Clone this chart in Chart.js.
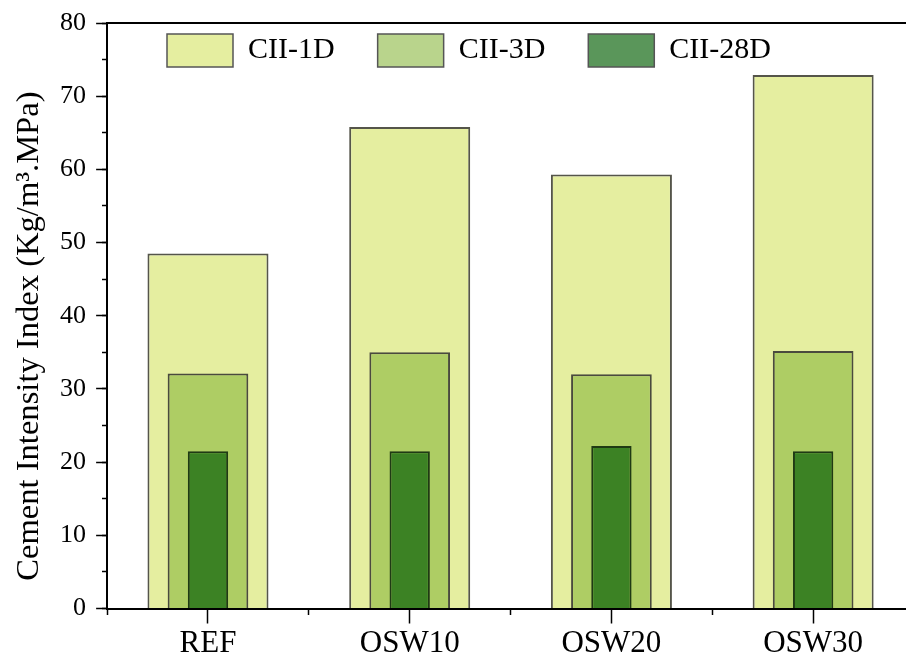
<!DOCTYPE html>
<html><head><meta charset="utf-8">
<script src="https://cdn.jsdelivr.net/npm/chart.js@4"></script>
<style>html,body{margin:0;padding:0;overflow:hidden;background:#fff}#wrap{width:930px;height:657px;position:relative}</style>
</head><body><div id="wrap"><canvas id="c"></canvas></div>
<script>
const categories = ['REF', 'OSW10', 'OSW20', 'OSW30'];
const cii1D = [48.5, 65.8, 59.3, 72.9];
const cii3D = [32.1, 35.0, 32.0, 35.2];
const cii28D = [21.5, 21.5, 22.2, 21.5];
const seriesNames = ['CII-1D', 'CII-3D', 'CII-28D'];
const yMin = 0, yMax = 80, yMajorStep = 10, yMinorStep = 5;
const yTitle = 'Cement Intensity Index (Kg/m³.MPa)';

const FONT = "'Liberation Serif', 'Times New Roman', serif";
const barFill = ['#e5eea0', '#aecd64', '#3c8224'];
const barEdge = ['#55554a', '#4a4a3e', '#1f3a14'];
const legendFill = ['#e5eea0', '#b9d48c', '#5a965a'];

// legend drawn inside the plot frame: takes no layout space, then moved to its spot
const legendInside = {
  id: 'legendInside',
  beforeLayout(chart) {
    const lg = chart.legend;
    if (lg && !lg._zeroFit) {
      const fit = lg.fit;
      lg.fit = function () { fit.call(this); this.height = 0; };
      lg._zeroFit = true;
    }
  },
  afterLayout(chart) {
    const lg = chart.legend; if (!lg) return;
    const p = lg.options.labels.padding;
    const dx = 167 - (lg.left + p);
    const dy = 34 - (lg.top + p);
    lg.left += dx; lg.right += dx; lg.top += dy;
    lg.height = 160; lg.bottom = lg.top + lg.height;
  }
};

new Chart(document.getElementById('c'), {
  type: 'bar',
  data: {
    labels: categories,
    datasets: [
      { label: seriesNames[0], data: cii1D, backgroundColor: barFill[0], borderColor: barEdge[0], borderWidth: 2, barPercentage: 0.6, categoryPercentage: 1, order: 3, xAxisID: 'x', yAxisID: 'y' },
      { label: seriesNames[1], data: cii3D, backgroundColor: barFill[1], borderColor: barEdge[1], borderWidth: 2, barPercentage: 0.4, categoryPercentage: 1, order: 2, xAxisID: 'x', yAxisID: 'y' },
      { label: seriesNames[2], data: cii28D, backgroundColor: barFill[2], borderColor: barEdge[2], borderWidth: 2, barPercentage: 0.2, categoryPercentage: 1, order: 1, xAxisID: 'x', yAxisID: 'y' }
    ]
  },
  options: {
    responsive: true,
    maintainAspectRatio: false,
    animation: false,
    grouped: false,
    layout: { padding: { left: 10, top: 23, right: 16, bottom: 0 } },
    plugins: {
      tooltip: { enabled: false },
      legend: {
        position: 'top',
        align: 'start',
        labels: {
          font: { family: FONT, size: 30 },
          color: '#000',
          boxWidth: 66,
          boxHeight: 33,
          padding: 43,
          generateLabels(chart) {
            const items = Chart.defaults.plugins.legend.labels.generateLabels(chart);
            items.forEach(it => { it.fillStyle = legendFill[it.datasetIndex]; it.lineWidth = 1.5; it.strokeStyle = '#555'; });
            return items.sort((a, b) => a.datasetIndex - b.datasetIndex);
          }
        }
      }
    },
    scales: {
      x: {
        axis: 'x', type: 'category', position: 'bottom', offset: true,
        grid: { display: true, drawOnChartArea: false, offset: false, tickLength: 15, tickWidth: 1.5, tickColor: '#000' },
        border: { display: true, color: '#000', width: 2 },
        ticks: { font: { family: FONT, size: 31, lineHeight: 1 }, color: '#000', padding: 5, maxRotation: 0 },
        afterFit(scale) { scale.height = 48.5; }
      },
      xMinor: {
        axis: 'x', type: 'category', labels: categories, offset: true, position: { y: 0 },
        grid: { drawOnChartArea: false, offset: true, tickLength: 6, tickWidth: 1.5, tickColor: '#000' },
        border: { display: false },
        ticks: { display: false }
      },
      xTop: {
        axis: 'x', type: 'category', labels: categories, offset: true, position: 'top',
        grid: { display: false, drawTicks: false },
        border: { display: true, color: '#000', width: 2 },
        ticks: { display: false }
      },
      y: {
        axis: 'y', type: 'linear', position: 'left', min: yMin, max: yMax,
        ticks: { stepSize: yMajorStep, font: { family: FONT, size: 26 }, color: '#000', padding: 10 },
        grid: { drawOnChartArea: false, tickLength: 11, tickWidth: 1.5, tickColor: '#000' },
        border: { display: true, color: '#000', width: 2 },
        title: { display: true, text: yTitle + '\u00a0\u00a0\u00a0\u00a0\u00a0', font: { family: FONT, size: 32.6, lineHeight: 1.2 }, color: '#000', padding: { top: 0, bottom: 1 } },
        afterFit(scale) { scale.paddingTop = 0; scale.paddingBottom = 0; }
      },
      yMinor: {
        axis: 'y', type: 'linear', min: yMin, max: yMax, position: { x: -0.5 },
        ticks: { display: false, stepSize: yMinorStep },
        grid: { drawOnChartArea: false, tickLength: 5, tickWidth: 1.5, tickColor: '#000' },
        border: { display: false }
      },
      yRight: {
        axis: 'y', type: 'linear', min: yMin, max: yMax, position: 'right',
        ticks: { display: false },
        grid: { display: false, drawTicks: false },
        border: { display: true, color: '#000', width: 2 }
      }
    }
  },
  plugins: [legendInside]
});
</script>
</body></html>
